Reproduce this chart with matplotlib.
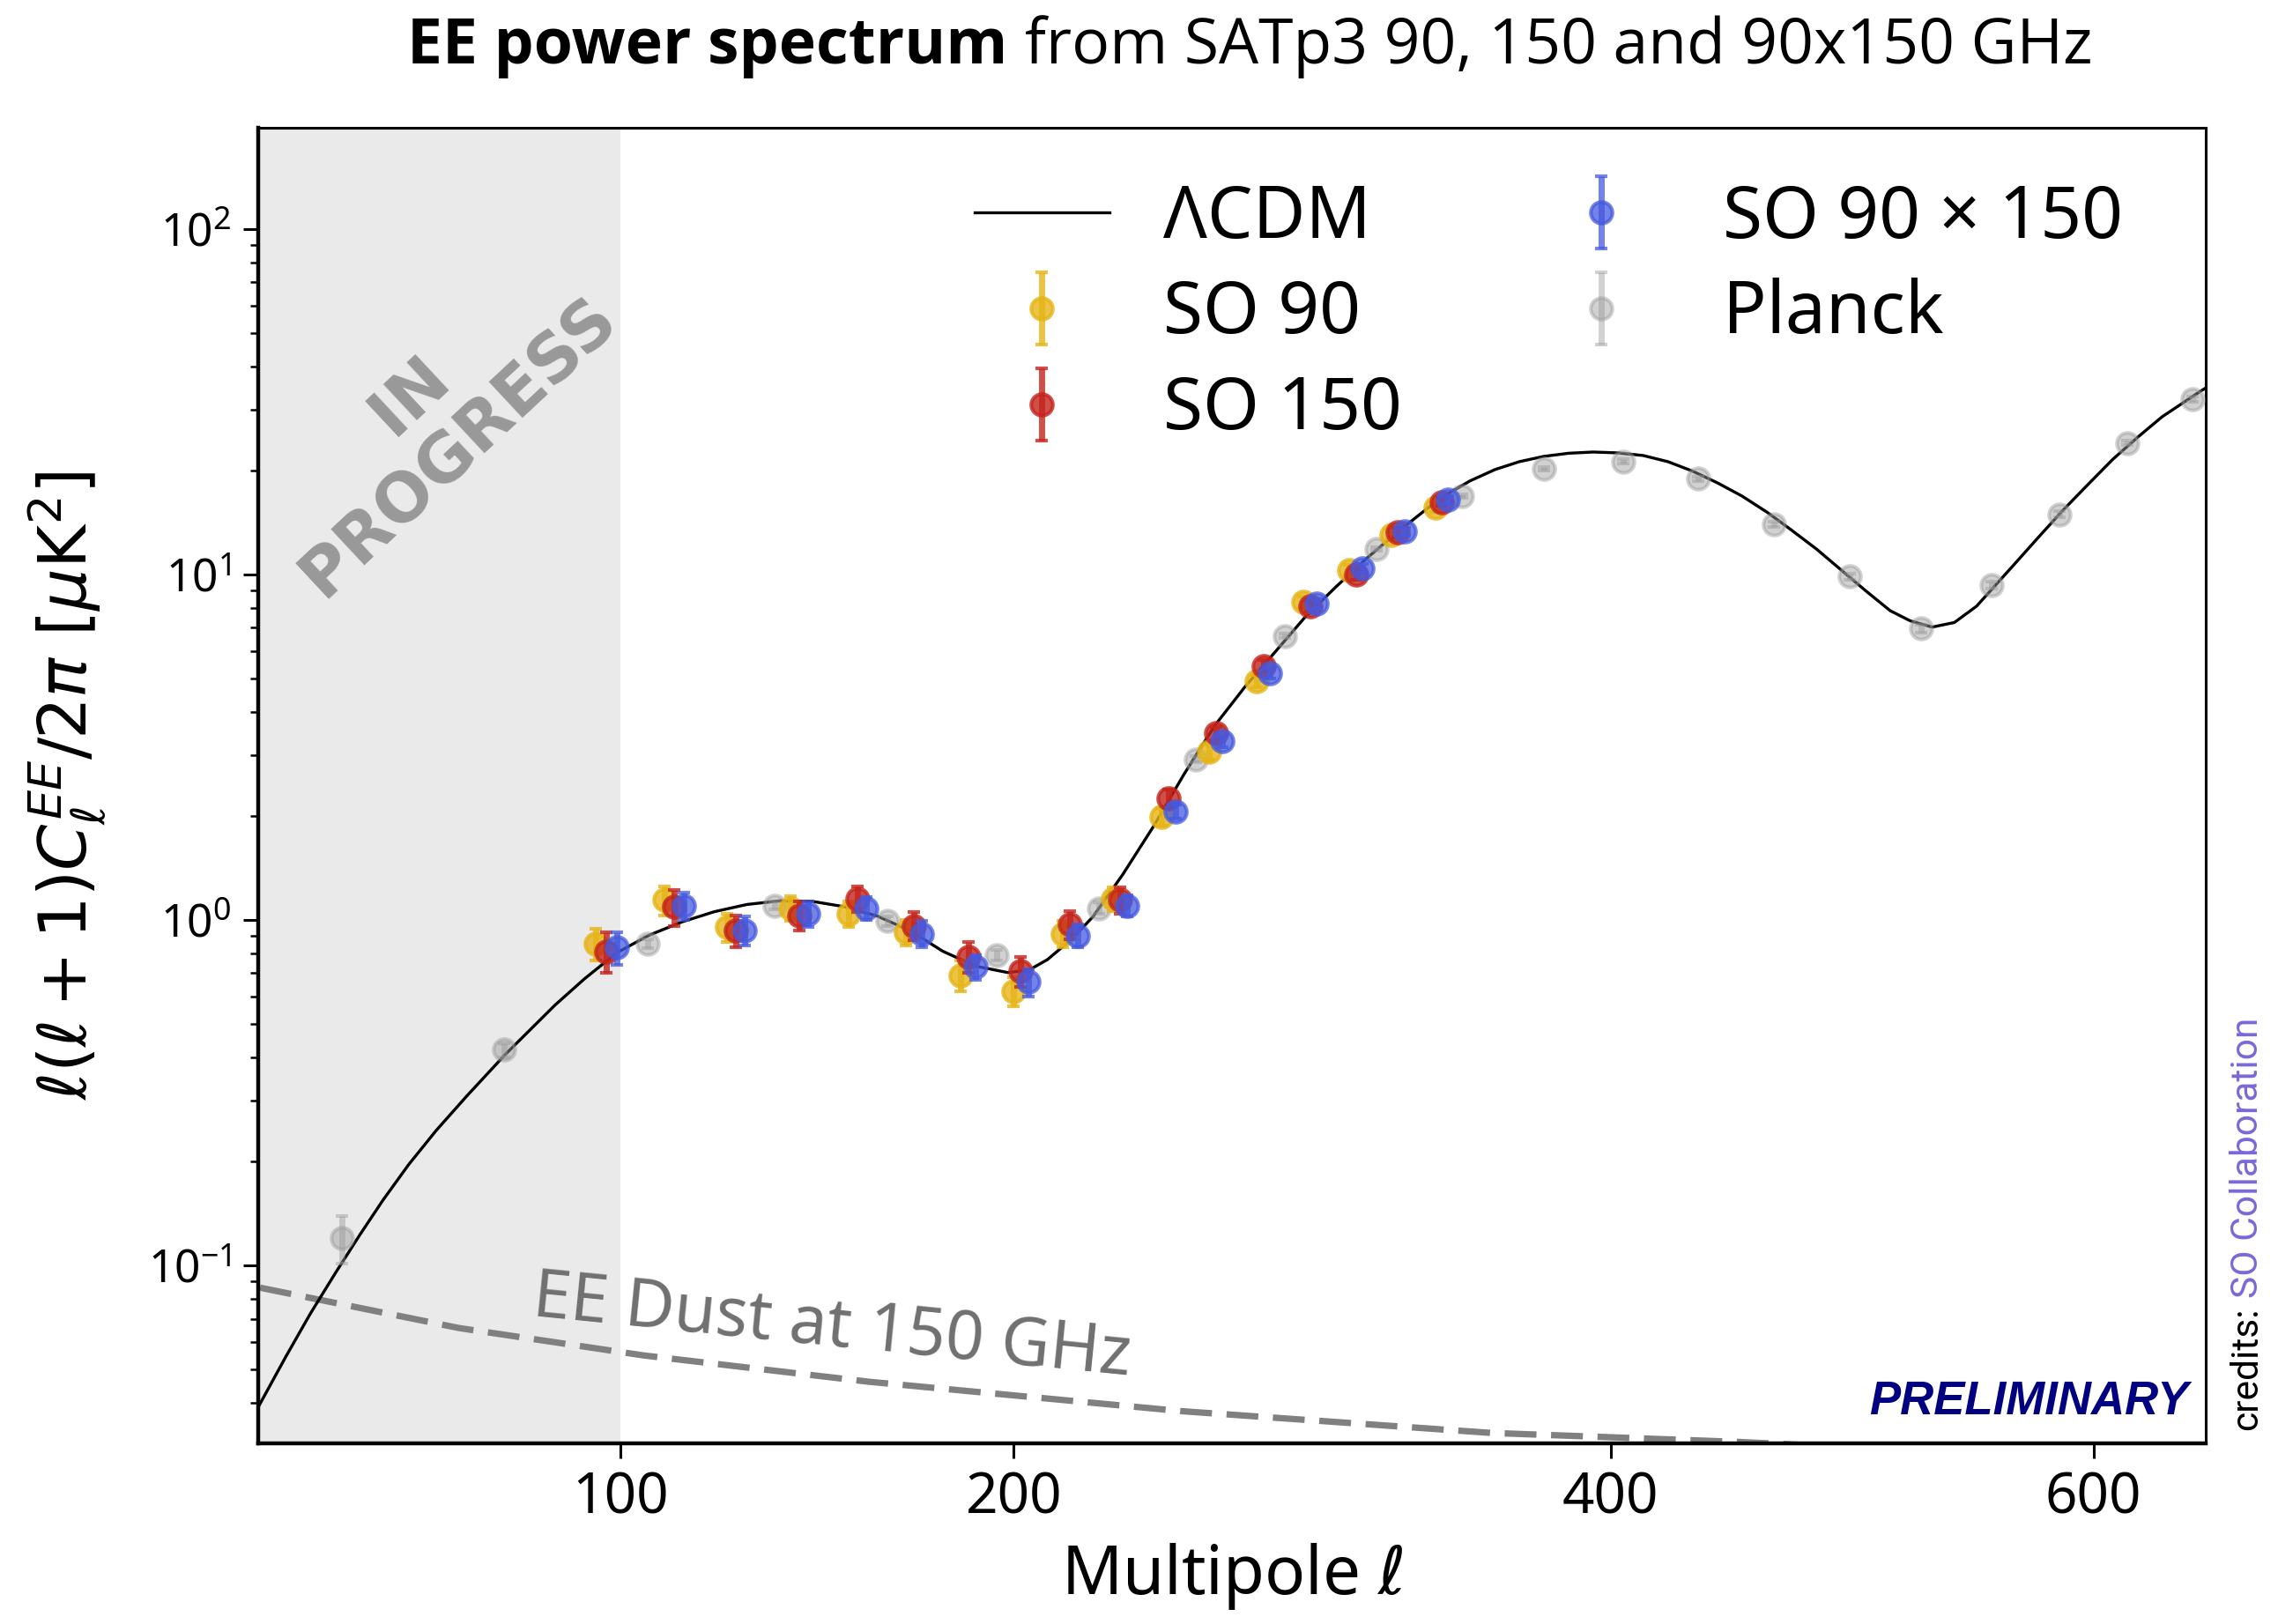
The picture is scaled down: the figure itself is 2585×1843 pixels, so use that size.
import os
import numpy as np
import matplotlib
matplotlib.use('Agg')
import matplotlib.pyplot as plt
from matplotlib.font_manager import FontProperties, findfont

plt.rcParams['font.family'] = ['Noto Sans', 'DejaVu Sans']

# LCDM EE curve
ell_lcdm = [34.3, 38.3, 42.0, 45.9, 49.9, 53.8, 58.2, 63.1, 68.9, 76.2, 86.2, 92.3,
            99.3, 106.4, 113.8, 121.4, 129.2, 137.2, 145.4, 153.7, 162.3, 171.1,
            180.0, 189.1, 198.3, 204.5, 209.8, 216.9, 223.3, 232.4, 241.9, 251.4,
            261.1, 270.9, 280.9, 290.9, 301.2, 311.4, 322.0, 332.6, 339.3, 348.1,
            357.0, 365.9, 374.9, 384.3, 393.4, 402.9, 412.5, 422.1, 431.6, 441.5,
            451.2, 461.3, 471.0, 481.3, 491.3, 501.6, 511.9, 520.3, 529.6, 539.1,
            548.6, 554.2, 564.7, 575.6, 586.4, 597.6, 608.6, 619.8, 631.0, 649.2, 651.0]
dl_lcdm = [0.0390, 0.0545, 0.0725, 0.0948, 0.1225, 0.1545, 0.1953, 0.245, 0.310, 0.4075,
           0.5665, 0.674, 0.803, 0.902, 0.985, 1.055, 1.107, 1.134, 1.130, 1.090,
           1.024, 0.928, 0.81, 0.734, 0.703, 0.716, 0.767, 0.878, 1.02, 1.354,
           1.867, 2.638, 3.64, 4.72, 5.97, 7.54, 9.20, 11.07, 13.17, 15.46,
           16.95, 18.64, 20.08, 21.17, 21.93, 22.40, 22.58, 22.45, 22.06, 21.17,
           19.89, 18.38, 16.84, 15.11, 13.44, 11.83, 10.31, 8.96, 7.84, 7.33,
           7.03, 7.25, 8.08, 8.89, 10.63, 12.80, 15.32, 18.21, 21.5, 24.9,
           28.57, 34.07, 34.6]

# dust at 150 GHz
ell_dust = [34.5, 67.3, 105.2, 159.9, 250.6, 355.6, 449.6, 650]
dl_dust = [0.0861, 0.0658, 0.0548, 0.046, 0.0378, 0.0327, 0.0308, 0.0266]

# Planck bandpowers
ell_planck = [47, 76, 106, 136, 165, 195, 225, 255, 284, 315, 345, 375, 405, 434,
              464, 495, 525, 555, 585, 615, 645]
dl_planck = [0.12, 0.42, 0.85, 1.10, 0.99, 0.79, 1.08, 2.91, 6.63, 11.85, 16.8, 20.2,
             21.2, 18.9, 13.97, 9.86, 6.96, 9.30, 14.9, 24.0, 32.1]
err_planck = [0.019, 0.02, 0.025, 0.03, 0.03, 0.03, 0.04, 0.06, 0.1, 0.15, 0.2, 0.25,
              0.3, 0.3, 0.25, 0.2, 0.18, 0.2, 0.3, 0.4, 0.5]

# SO bandpowers
ell_so = [97, 112, 126.5, 142, 157, 172, 187, 202, 216.5, 231.5, 246.5, 261.5,
          277, 292.5, 308, 322.5, 338]
dl_so90 = [0.85, 1.14, 0.95, 1.08, 1.04, 0.92, 0.69, 0.62, 0.91, 1.15, 1.99, 3.06,
           4.90, 8.3, 10.3, 13.0, 15.6]
err_so90 = [0.09, 0.11, 0.09, 0.09, 0.09, 0.08, 0.07, 0.06, 0.08, 0.09, 0.12, 0.15,
            0.2, 0.3, 0.35, 0.4, 0.45]
dl_so150 = [0.81, 1.09, 0.93, 1.03, 1.15, 0.96, 0.78, 0.71, 0.97, 1.14, 2.25, 3.46,
            5.41, 8.1, 10.0, 13.2, 16.2]
err_so150 = [0.11, 0.13, 0.10, 0.10, 0.10, 0.09, 0.08, 0.07, 0.09, 0.10, 0.13, 0.16,
             0.22, 0.3, 0.35, 0.4, 0.45]
dl_sox = [0.83, 1.10, 0.93, 1.04, 1.08, 0.91, 0.73, 0.66, 0.90, 1.10, 2.06, 3.28,
          5.17, 8.2, 10.4, 13.3, 16.4]
err_sox = [0.09, 0.10, 0.09, 0.09, 0.08, 0.08, 0.06, 0.06, 0.07, 0.08, 0.1, 0.13,
           0.18, 0.25, 0.3, 0.35, 0.4]

xticks = [100, 200, 400, 600]
xtick_labels = ['100', '200', '400', '600']


def has_bold(fam):
    try:
        path = findfont(FontProperties(family=fam, weight='bold'), fallback_to_default=False)
    except Exception:
        return False
    return 'bold' in os.path.basename(path).lower()


def has_font(fam):
    try:
        findfont(FontProperties(family=fam), fallback_to_default=False)
        return True
    except Exception:
        return False


title_font = next((f for f in ['Open Sans', 'Noto Sans', 'Lato', 'Roboto', 'Inter'] if has_bold(f)),
                  'DejaVu Sans')
credit_font = 'Roboto' if has_font('Roboto') else 'Noto Sans'


def fwd(x):
    x = np.asarray(x, dtype=float)
    return np.sign(x) * np.abs(x) ** 0.6


def inv(y):
    y = np.asarray(y, dtype=float)
    return np.sign(y) * np.abs(y) ** (1 / 0.6)


fig = plt.figure(figsize=(12.925, 9.215), dpi=200)
ax = fig.add_axes([0.11335, 0.11123, 0.85493, 0.81009])
ax.set_xscale('function', functions=(fwd, inv))
ax.set_yscale('log')
ax.set_xlim(34.25, 651)
ax.set_ylim(0.0305, 196)

ax.axvspan(34.25, 100, color='#eaeaea', lw=0, zorder=0)

ax.plot(ell_dust, dl_dust, color='#808080', lw=2.6, dashes=(5, 2.3), zorder=1)
l_lcdm, = ax.plot(ell_lcdm, dl_lcdm, color='black', lw=1.2, zorder=2)

eb_kw = dict(fmt='o', ms=8.8, mew=1.5, elinewidth=2.5, capsize=2.5, capthick=2)
e_pl = ax.errorbar(ell_planck, dl_planck, yerr=err_planck, color='#9a9a9a',
                   alpha=0.45, zorder=3, **eb_kw)
e90 = ax.errorbar(np.array(ell_so) - 2.2, dl_so90, yerr=err_so90, color='#e6b417',
                  alpha=0.8, zorder=4, **eb_kw)
e150 = ax.errorbar(ell_so, dl_so150, yerr=err_so150, color='#c4241c',
                   alpha=0.8, zorder=5, **eb_kw)
ex = ax.errorbar(np.array(ell_so) + 2.2, dl_sox, yerr=err_sox, color='#4459e0',
                 alpha=0.75, zorder=6, **eb_kw)

ax.set_xticks(xticks, xtick_labels)
ax.xaxis.set_minor_locator(matplotlib.ticker.NullLocator())
ax.tick_params(axis='both', which='major', direction='out', length=6, width=1.1, pad=5)
ax.tick_params(axis='both', which='minor', direction='out', length=3.3, width=0.9)
ax.tick_params(axis='x', labelsize=23)
ax.tick_params(axis='y', labelsize=18.5)
for side in ['left', 'bottom']:
    ax.spines[side].set_linewidth(1.6)
for side in ['top', 'right']:
    ax.spines[side].set_linewidth(1.1)

ax.set_xlabel(r'Multipole $\ell$', fontsize=27.5, labelpad=6)
ax.set_ylabel(r'$\ell(\ell+1)C_\ell^{EE}/2\pi\ [\mu\mathrm{K}^2]$', fontsize=27, labelpad=16)

ax.legend([l_lcdm, e90, e150, ex, e_pl],
          ['ΛCDM', 'SO 90', 'SO 150', 'SO 90 × 150', 'Planck'],
          ncol=2, loc='upper right', bbox_to_anchor=(0.9575, 0.9587), frameon=False,
          fontsize=29.5, handlelength=1.87, handletextpad=0.75, columnspacing=1.82,
          labelspacing=0.315, borderaxespad=0, borderpad=0)

ax.text(0.0905, 0.777, 'IN\nPROGRESS', transform=ax.transAxes, rotation=43,
        rotation_mode='anchor', ha='center', va='center', multialignment='center',
        fontsize=27.5, fontweight='bold', color='#999999', family='DejaVu Sans',
        linespacing=1.1)

ax.text(0.1403, 0.0971, 'EE Dust at 150 GHz', transform=ax.transAxes, rotation=-5.7,
        rotation_mode='anchor', ha='left', va='baseline', fontsize=27.5, color='#707070')

ax.text(0.991, 0.0221, 'PRELIMINARY', transform=ax.transAxes, ha='right', va='baseline',
        fontsize=19, fontweight='bold', fontstyle='italic', color='#000080',
        family='Liberation Sans')

renderer = fig.canvas.get_renderer()
W = fig.bbox.width
H = fig.bbox.height

# title: bold part + regular part
tsize = 25.7
t1 = fig.text(0, 0.961, 'EE power spectrum', fontsize=tsize, fontweight='bold',
              family=title_font, ha='left', va='baseline')
t2 = fig.text(0, 0.961, 'from SATp3 90, 150 and 90x150 GHz', fontsize=tsize,
              family=title_font, ha='left', va='baseline')
w1 = t1.get_window_extent(renderer).width
w2 = t2.get_window_extent(renderer).width
gap = 0.27 * tsize * fig.dpi / 72
x0 = 0.5486 * W - (w1 + gap + w2) / 2
t1.set_x(x0 / W)
t2.set_x((x0 + w1 + gap) / W)

# vertical credits
csize = 15.3 if credit_font == 'Roboto' else 14
c1 = fig.text(0.9865, 0.1194, 'credits:', rotation=90, ha='center', va='bottom',
              fontsize=csize, color='black', family=credit_font)
h1 = c1.get_window_extent(renderer).height
c2 = fig.text(0.9865, 0.1194 + (h1 + 0.25 * csize * fig.dpi / 72) / H, 'SO Collaboration',
              rotation=90, ha='center', va='bottom', fontsize=csize, color='#7b68d8',
              family=credit_font)

fig.savefig('out.png', dpi=200)
